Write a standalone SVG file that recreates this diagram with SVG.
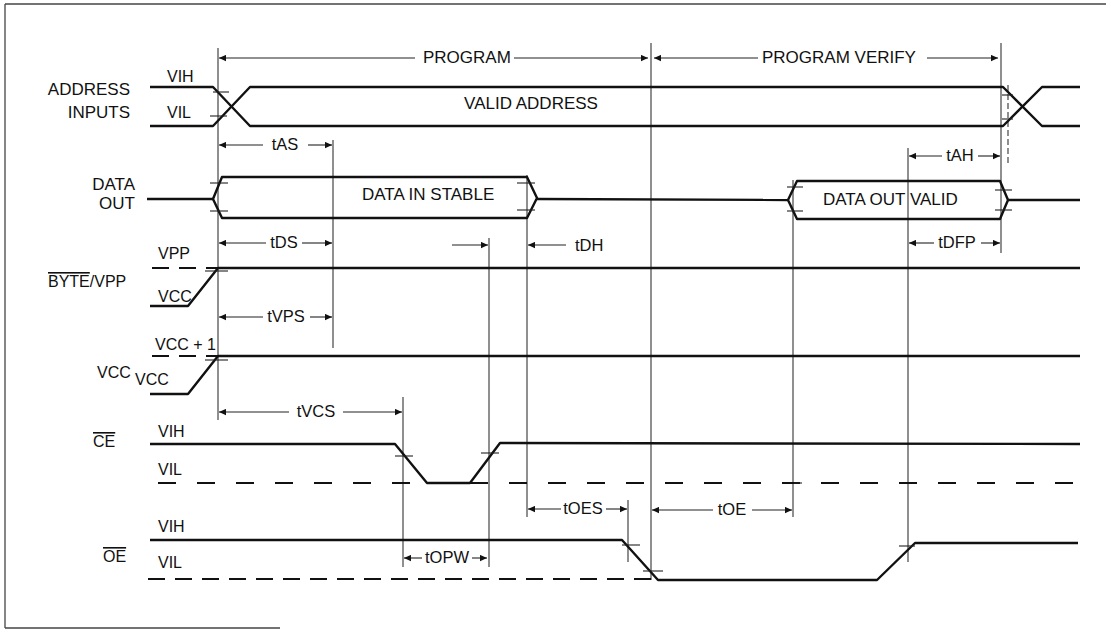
<svg xmlns="http://www.w3.org/2000/svg" width="1110" height="630" viewBox="0 0 1110 630">
<defs>
<style>
text{font-family:"Liberation Sans",Arial,sans-serif;fill:#111;}
.lb{font-size:17px;}
.lv{font-size:16px;}
.lt{font-size:16.5px;}
.sig{fill:none;stroke:#111;stroke-width:2.4;stroke-linejoin:round;}
.ref{fill:none;stroke:#333;stroke-width:1.1;}
.tick{fill:none;stroke:#222;stroke-width:1.1;}
.dash1{fill:none;stroke:#111;stroke-width:2;stroke-dasharray:17 10;}
.dash2{fill:none;stroke:#111;stroke-width:2.2;stroke-dasharray:18 21;}
.dash3{fill:none;stroke:#111;stroke-width:2.2;stroke-dasharray:17 10;}
.dim{fill:none;stroke:#222;stroke-width:1.1;}
.ov{text-decoration:overline;}
.frame{fill:none;stroke:#444;stroke-width:1.3;}
</style>
<marker id="arr" viewBox="0 0 10 10" refX="10" refY="5" markerWidth="10" markerHeight="7" markerUnits="userSpaceOnUse" orient="auto-start-reverse">
<path d="M0,0.5 L10,5 L0,9.5 z" fill="#111"/>
</marker>
</defs>
<rect width="1110" height="630" fill="#fff"/>

<g id="frame">
<line class="frame" x1="5" y1="4" x2="1106" y2="4"/>
<line class="frame" x1="5" y1="4" x2="5" y2="628"/>
<line class="frame" x1="5" y1="628" x2="280" y2="628"/>
</g>

<g id="reference-lines">
<line class="ref" x1="218" y1="48" x2="218" y2="420"/>
<line class="ref" x1="333" y1="140" x2="333" y2="348"/>
<line class="ref" x1="403" y1="397" x2="403" y2="567"/>
<line class="ref" x1="489" y1="238" x2="489" y2="567"/>
<line class="ref" x1="527" y1="175" x2="527" y2="517"/>
<line class="ref" x1="651" y1="43" x2="651" y2="580"/>
<line class="ref" x1="628" y1="500" x2="628" y2="562"/>
<line class="ref" x1="793" y1="180" x2="793" y2="517"/>
<line class="ref" x1="908" y1="148" x2="908" y2="562"/>
<line class="ref" x1="1001" y1="43" x2="1001" y2="253"/>
<line class="ref" x1="1008" y1="85" x2="1008" y2="165" stroke-dasharray="6 3"/>
</g>

<g id="address-inputs">
<text class="lb" x="130" y="95" text-anchor="end">ADDRESS</text>
<text class="lb" x="130" y="118" text-anchor="end">INPUTS</text>
<text class="lv" x="167" y="82">VIH</text>
<text class="lv" x="167" y="118">VIL</text>
<polyline class="sig" points="150,87 213,87 250,126 1003,126 1042,87 1080,87"/>
<polyline class="sig" points="150,126 213,126 250,87 1003,87 1042,126 1080,126"/>
<line class="tick" x1="213" y1="92" x2="229" y2="92"/>
<line class="tick" x1="210" y1="116" x2="227" y2="116"/>
<line class="tick" x1="1002" y1="95" x2="1013" y2="95"/>
<line class="tick" x1="1002" y1="119" x2="1013" y2="119"/>
<text class="lb" x="531" y="109" text-anchor="middle">VALID ADDRESS</text>
</g>

<g id="data-out">
<text class="lb" x="135" y="190" text-anchor="end">DATA</text>
<text class="lb" x="135" y="209" text-anchor="end">OUT</text>
<polyline class="sig" points="147,199 213,199"/>
<polygon class="sig" points="213,199 222,177 527,177 537,198 527,218 222,218"/>
<polyline class="sig" points="537,199 788,200"/>
<polygon class="sig" points="788,200 797,181 1000,181 1008,200 1000,219 797,219"/>
<polyline class="sig" points="1008,200 1080,200"/>
<line class="tick" x1="210" y1="183" x2="228" y2="183"/>
<line class="tick" x1="210" y1="211" x2="228" y2="211"/>
<line class="tick" x1="517" y1="183" x2="535" y2="183"/>
<line class="tick" x1="517" y1="210" x2="535" y2="210"/>
<line class="tick" x1="787" y1="187" x2="803" y2="187"/>
<line class="tick" x1="787" y1="211" x2="803" y2="211"/>
<line class="tick" x1="995" y1="190" x2="1012" y2="190"/>
<line class="tick" x1="995" y1="210" x2="1012" y2="210"/>
<text class="lb" x="362" y="200">DATA IN STABLE</text>
<text class="lb" x="823" y="205">DATA OUT VALID</text>
</g>

<g id="byte-vpp">
<text class="lv" x="158" y="259">VPP</text>
<text class="lv" x="48" y="287"><tspan class="ov">BYTE</tspan>/VPP</text>
<text class="lv" x="158" y="302">VCC</text>
<line class="dash1" x1="152" y1="268" x2="218" y2="268"/>
<polyline class="sig" points="150,306 188,306 218,268 1080,268"/>
<line class="tick" x1="205" y1="271" x2="228" y2="271"/>
</g>

<g id="vcc">
<text class="lv" x="155" y="350">VCC + 1</text>
<text class="lv" x="97" y="378">VCC</text>
<text class="lv" x="135" y="385">VCC</text>
<line class="dash1" x1="152" y1="356" x2="218" y2="356"/>
<polyline class="sig" points="150,394 188,394 218,356 1080,356"/>
<line class="tick" x1="205" y1="360" x2="228" y2="360"/>
</g>

<g id="ce">
<text class="lv ov" x="93" y="447">CE</text>
<text class="lv" x="158" y="437">VIH</text>
<text class="lv" x="158" y="475">VIL</text>
<line class="dash2" x1="158" y1="483" x2="1080" y2="483"/>
<polyline class="sig" points="150,444 395,444 427,483 470,483 500,443 1080,444"/>
<line class="tick" x1="395" y1="456" x2="413" y2="456"/>
<line class="tick" x1="481" y1="453" x2="499" y2="453"/>
<line class="tick" x1="794" y1="483" x2="802" y2="483"/>
</g>

<g id="oe">
<text class="lv ov" x="103" y="562">OE</text>
<text class="lv" x="158" y="532">VIH</text>
<text class="lv" x="158" y="568">VIL</text>
<line class="dash3" x1="148" y1="579" x2="652" y2="579"/>
<polyline class="sig" points="150,540 622,540 658,580 877,580 915,543 1078,543"/>
<line class="tick" x1="622" y1="545" x2="640" y2="545"/>
<line class="tick" x1="643" y1="571" x2="663" y2="571"/>
<line class="tick" x1="899" y1="546" x2="915" y2="546"/>
</g>

<g id="connectors">
<line class="dim" x1="415" y1="58" x2="219" y2="58" marker-end="url(#arr)"/>
<line class="dim" x1="514" y1="58" x2="648" y2="58" marker-end="url(#arr)"/>
<text class="lb" x="423" y="63">PROGRAM</text>
<line class="dim" x1="758" y1="58" x2="654" y2="58" marker-end="url(#arr)"/>
<line class="dim" x1="927" y1="58" x2="998" y2="58" marker-end="url(#arr)"/>
<text class="lb" x="762" y="63">PROGRAM VERIFY</text>

<line class="dim" x1="263" y1="145" x2="219" y2="145" marker-end="url(#arr)"/>
<line class="dim" x1="308" y1="145" x2="332" y2="145" marker-end="url(#arr)"/>
<text class="lt" x="285" y="150" text-anchor="middle">tAS</text>

<line class="dim" x1="942" y1="156" x2="909" y2="156" marker-end="url(#arr)"/>
<line class="dim" x1="978" y1="156" x2="1000" y2="156" marker-end="url(#arr)"/>
<text class="lt" x="960" y="161" text-anchor="middle">tAH</text>

<line class="dim" x1="266" y1="243" x2="219" y2="243" marker-end="url(#arr)"/>
<line class="dim" x1="302" y1="243" x2="332" y2="243" marker-end="url(#arr)"/>
<text class="lt" x="284" y="248" text-anchor="middle">tDS</text>

<line class="dim" x1="452" y1="245" x2="488" y2="245" marker-end="url(#arr)"/>
<line class="dim" x1="566" y1="245" x2="528" y2="245" marker-end="url(#arr)"/>
<text class="lt" x="575" y="251">tDH</text>

<line class="dim" x1="934" y1="243" x2="909" y2="243" marker-end="url(#arr)"/>
<line class="dim" x1="981" y1="243" x2="1000" y2="243" marker-end="url(#arr)"/>
<text class="lt" x="957" y="248" text-anchor="middle">tDFP</text>

<line class="dim" x1="263" y1="317" x2="219" y2="317" marker-end="url(#arr)"/>
<line class="dim" x1="310" y1="317" x2="332" y2="317" marker-end="url(#arr)"/>
<text class="lt" x="286" y="322" text-anchor="middle">tVPS</text>

<line class="dim" x1="289" y1="412" x2="219" y2="412" marker-end="url(#arr)"/>
<line class="dim" x1="343" y1="412" x2="402" y2="412" marker-end="url(#arr)"/>
<text class="lt" x="316" y="417" text-anchor="middle">tVCS</text>

<line class="dim" x1="561" y1="509" x2="528" y2="509" marker-end="url(#arr)"/>
<line class="dim" x1="606" y1="509" x2="627" y2="509" marker-end="url(#arr)"/>
<text class="lt" x="583" y="514" text-anchor="middle">tOES</text>

<line class="dim" x1="713" y1="510" x2="652" y2="510" marker-end="url(#arr)"/>
<line class="dim" x1="752" y1="510" x2="792" y2="510" marker-end="url(#arr)"/>
<text class="lt" x="732" y="515" text-anchor="middle">tOE</text>

<line class="dim" x1="422" y1="558" x2="404" y2="558" marker-end="url(#arr)"/>
<line class="dim" x1="472" y1="558" x2="487" y2="558" marker-end="url(#arr)"/>
<text class="lt" x="447" y="563" text-anchor="middle">tOPW</text>
</g>
</svg>
